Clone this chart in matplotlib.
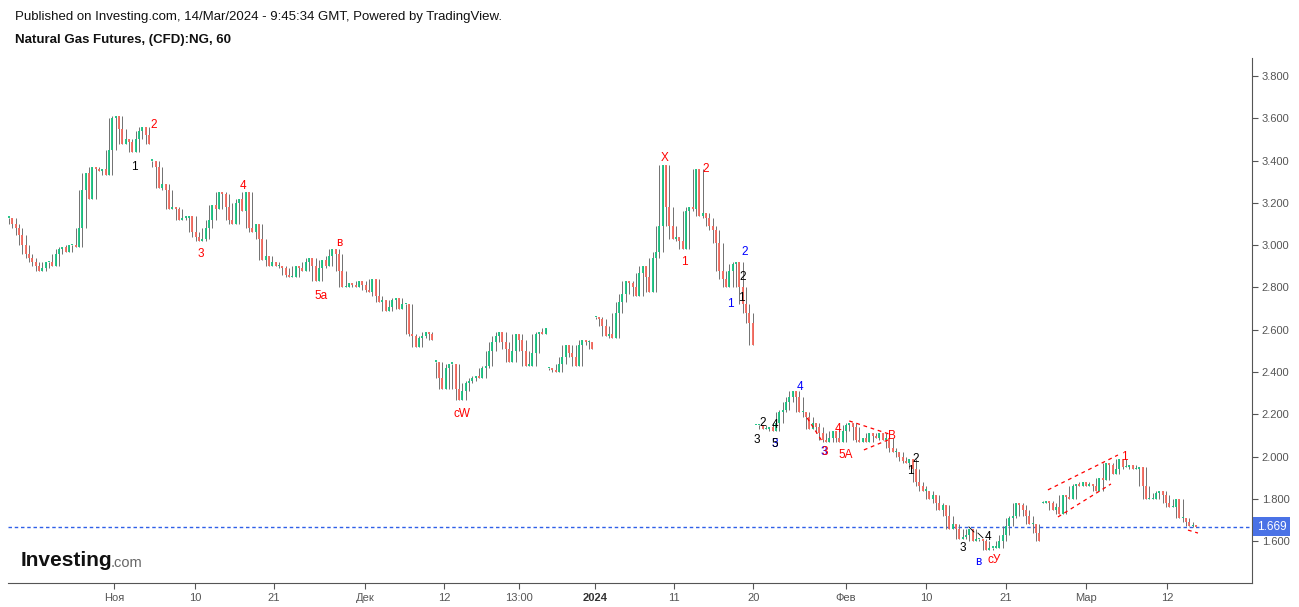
import matplotlib
matplotlib.use("Agg")
import matplotlib.pyplot as plt
import matplotlib.transforms as mtransforms
import numpy as np

plt.rcParams['font.family'] = ['Liberation Sans', 'DejaVu Sans']

# Цены закрытия (каждая свеча ~ несколько часовых баров)
closes = [
    3.13, 3.10, 3.08, 3.05, 3.00, 2.96, 2.94, 2.92, 2.90, 2.88,
    2.89, 2.92, 2.92, 2.90, 2.96, 2.98, 2.99, 2.97, 3.00, 3.00,
    2.99, 3.08, 3.26, 3.34, 3.22, 3.37, 3.36, 3.35, 3.36, 3.33,
    3.45, 3.60, 3.61, 3.55, 3.48, 3.50, 3.49, 3.44, 3.50, 3.54,
    3.56, 3.52, 3.48, 3.40, 3.37, 3.27, 3.29, 3.26, 3.17, 3.18,
    3.17, 3.12, 3.13, 3.13, 3.14, 3.06, 3.04, 3.02, 3.03, 3.08,
    3.12, 3.19, 3.17, 3.25, 3.24, 3.18, 3.12, 3.10, 3.20, 3.22,
    3.16, 3.25, 3.08, 3.06, 3.10, 3.03, 2.93, 2.95, 2.90, 2.92,
    2.90, 2.90, 2.89, 2.86, 2.85, 2.85, 2.90, 2.89, 2.88, 2.92,
    2.94, 2.90, 2.83, 2.89, 2.93, 2.90, 2.95, 2.98, 2.96, 2.88,
    2.80, 2.80, 2.82, 2.81, 2.80, 2.83, 2.81, 2.79, 2.78, 2.84,
    2.76, 2.73, 2.74, 2.69, 2.71, 2.74, 2.75, 2.70, 2.72, 2.72,
    2.58, 2.57, 2.52, 2.56, 2.57, 2.59, 2.58, 2.55, 2.45, 2.37,
    2.32, 2.42, 2.44, 2.44, 2.32, 2.27, 2.31, 2.35, 2.36, 2.37,
    2.38, 2.37, 2.42, 2.43, 2.50, 2.54, 2.57, 2.59, 2.54, 2.51,
    2.45, 2.50, 2.58, 2.55, 2.50, 2.43, 2.43, 2.49, 2.58, 2.59,
    2.58, 2.61, 2.42, 2.41, 2.40, 2.44, 2.47, 2.53, 2.49, 2.47,
    2.43, 2.53, 2.55, 2.54, 2.54, 2.51, 2.66, 2.65, 2.62, 2.57,
    2.58, 2.56, 2.68, 2.73, 2.77, 2.83, 2.82, 2.80, 2.76, 2.87,
    2.90, 2.85, 2.78, 2.94, 2.97, 3.09, 3.38, 3.18, 3.09, 3.03,
    3.04, 3.02, 2.98, 3.16, 3.18, 3.17, 3.36, 3.14, 3.15, 3.13,
    3.09, 3.07, 3.01, 2.88, 2.84, 2.80, 2.88, 2.91, 2.92, 2.80,
    2.72, 2.68, 2.63, 2.53, 2.15, 2.15, 2.13, 2.13, 2.14, 2.12,
    2.16, 2.21, 2.22, 2.26, 2.28, 2.31, 2.28, 2.21, 2.21, 2.19,
    2.13, 2.16, 2.14, 2.11, 2.08, 2.07, 2.09, 2.12, 2.09, 2.07,
    2.12, 2.15, 2.16, 2.14, 2.08, 2.07, 2.09, 2.07, 2.11, 2.10,
    2.09, 2.11, 2.08, 2.09, 2.04, 2.02, 2.02, 2.00, 1.98, 1.97,
    1.99, 1.94, 1.88, 1.86, 1.84, 1.84, 1.80, 1.82, 1.78, 1.75,
    1.77, 1.72, 1.66, 1.68, 1.66, 1.61, 1.62, 1.63, 1.66, 1.60,
    1.61, 1.61, 1.60, 1.56, 1.57, 1.57, 1.57, 1.60, 1.63, 1.67,
    1.71, 1.72, 1.78, 1.77, 1.75, 1.72, 1.68, 1.68, 1.64, 1.60,
    1.78, 1.79, 1.78, 1.75, 1.76, 1.73, 1.82, 1.81, 1.80, 1.86,
    1.87, 1.86, 1.88, 1.86, 1.87, 1.86, 1.84, 1.90, 1.89, 1.97,
    1.96, 1.92, 1.94, 1.99, 1.95, 1.95, 1.96, 1.94, 1.94, 1.95,
    1.86, 1.80, 1.80, 1.80, 1.83, 1.84, 1.82, 1.78, 1.76, 1.76,
    1.80, 1.71, 1.71, 1.69, 1.67, 1.67, 1.669,
]
# разрывы (после этих индексов начинается новый сегмент)
gaps = [42, 127, 161, 175, 223, 309]
last_price = 1.669

# подписи оси X и их позиции (номер свечи)
xtick_pos = [31.5, 55.8, 79.5, 106.8, 130.5, 153.0, 175.8, 199.5, 223.2,
             251.0, 275.0, 299.0, 323.0, 347.3]
xtick_lab = ['Ноя', '10', '21', 'Дек', '12', '13:00', '2024', '11', '20',
             'Фев', '10', '21', 'Мар', '12']
yticks = [1.6, 1.8, 2.0, 2.2, 2.4, 2.6, 2.8, 3.0, 3.2, 3.4, 3.6, 3.8]

# волновая разметка
wave_text = ['1', '2', '3', '4', 'в', '5a', 'cW', 'X', '2', '1', '2', '2', '1', '1',
             '3', '2', '4', '3', '5', '4', '3', '3', '4', '5A', 'B', '2', '1',
             '3', '4', 'в', 'cУ', '1']
wave_x = [37.5, 43.4, 57.4, 70.2, 99.0, 93.7, 136.0, 196.7, 208.9, 202.7, 220.7, 220.0, 219.6, 216.4,
          224.3, 226.0, 229.8, 229.6, 229.6, 237.2, 244.4, 244.8, 248.6, 251.0, 264.9, 271.8, 270.4,
          286.0, 293.7, 290.7, 295.6, 334.6]
wave_y = [3.37, 3.57, 2.96, 3.28, 3.01, 2.76, 2.20, 3.41, 3.36, 2.92, 2.97, 2.85, 2.75, 2.72,
          2.08, 2.16, 2.15, 2.06, 2.06, 2.33, 2.02, 2.02, 2.13, 2.01, 2.10, 1.99, 1.93,
          1.57, 1.62, 1.50, 1.51, 2.00]
wave_col = ['black', 'red', 'red', 'red', 'red', 'red', 'red', 'red', 'red', 'red', 'blue', 'black', 'black', 'blue',
            'black', 'black', 'black', 'blue', 'black', 'blue', 'blue', 'red', 'red', 'red', 'red', 'black', 'black',
            'black', 'black', 'blue', 'red', 'red']

# пунктирные трендовые линии (x0, y0, x1, y1)
trend_red = [(311.6, 1.843, 332.6, 2.008), (314.6, 1.715, 330.5, 1.871),
             (252.0, 2.169, 264.0, 2.107), (256.4, 2.032, 263.6, 2.079),
             (239.4, 2.183, 244.2, 2.065), (353.6, 1.653, 356.6, 1.639)]
trend_black = [(287.9, 1.668, 289.4, 1.644), (290.6, 1.639, 292.1, 1.616)]

# --- свечи ---
c = np.array(closes)
n = len(c)
x = np.arange(n)
starts = set([0] + [g + 1 for g in gaps])
seg = np.cumsum([1 if i in starts else 0 for i in range(n)])
o = np.array([c[i] if i in starts else c[i - 1] for i in range(n)])
hi = np.maximum(o, c).copy()
lo = np.minimum(o, c).copy()
# тени: до соседних закрытий в пределах сегмента
for i in range(n):
    for j in (i - 2, i + 1):
        if 0 <= j < n and seg[j] == seg[i]:
            hi[i] = max(hi[i], c[j])
            lo[i] = min(lo[i], c[j])
up = c >= o
body_top = np.maximum(np.maximum(o, c), np.minimum(o, c) + 0.006)
body_bot = np.minimum(o, c)

green = '#14c17f'
red = '#f6675b'

fig = plt.figure(figsize=(12.99, 6.07), dpi=100)
ax = fig.add_axes([8 / 1299, 24 / 607, 1244 / 1299, 525 / 607])

ax.vlines(x, lo, hi, color='#707070', lw=0.7, zorder=2)
ax.vlines(x, body_bot, body_top, colors=np.where(up, green, red), lw=1.3, zorder=3)

ax.axhline(last_price, color='#2f5fe8', lw=1.0, ls=(0, (2.5, 2)), zorder=1)

for x0, y0, x1, y1 in trend_red:
    ax.plot([x0, x1], [y0, y1], color='red', lw=0.9, ls=(0, (3, 3)), zorder=4)
for x0, y0, x1, y1 in trend_black:
    ax.plot([x0, x1], [y0, y1], color='black', lw=0.6, zorder=4)

for t, xx, yy, cc in zip(wave_text, wave_x, wave_y, wave_col):
    ax.text(xx, yy, t, color=cc, fontsize=8.5, ha='center', va='center', zorder=5)

ax.set_xlim(-0.3, 372.8)
ax.set_ylim(1.4028, 3.885)

for s in ['top', 'left']:
    ax.spines[s].set_visible(False)
ax.spines['bottom'].set_color('#555555')
ax.spines['right'].set_color('#555555')

ax.yaxis.tick_right()
ax.set_yticks(yticks)
ax.set_yticklabels(['%.3f' % v for v in yticks])
ax.set_xticks(xtick_pos)
ax.set_xticklabels(xtick_lab)
ax.tick_params(axis='both', colors='#555555', labelsize=8, length=4, width=0.8)
ax.tick_params(axis='x', pad=3)
ax.tick_params(axis='y', pad=3)
for lab in ax.get_xticklabels():
    if lab.get_text() == '2024':
        lab.set_fontweight('bold')
        lab.set_color('#333333')

# подпись последней цены на оси
trans = mtransforms.blended_transform_factory(ax.transAxes, ax.transData)
ax.text(1.004, last_price, '1.669', transform=trans, color='white', fontsize=8.5,
        ha='left', va='center', zorder=6,
        bbox=dict(boxstyle='square,pad=0.3', fc='#4a72e6', ec='none'))

# заголовок
fig.text(15 / 1299, 1 - 17 / 607,
         'Published on Investing.com, 14/Mar/2024 - 9:45:34 GMT, Powered by TradingView.',
         fontsize=9.5, va='center', ha='left', color='#111111')
fig.text(15 / 1299, 1 - 40 / 607, 'Natural Gas Futures, (CFD):NG, 60',
         fontsize=9.5, va='center', ha='left', fontweight='bold', color='#111111')

# логотип
fig.text(21 / 1299, 1 - 560 / 607, 'Investing', fontsize=15, fontweight='bold',
         va='center', ha='left', color='#111111')
fig.text(111 / 1299, 1 - 563 / 607, '.com', fontsize=10.5, va='center', ha='left',
         color='#666666')

fig.savefig('out.png', dpi=100)
